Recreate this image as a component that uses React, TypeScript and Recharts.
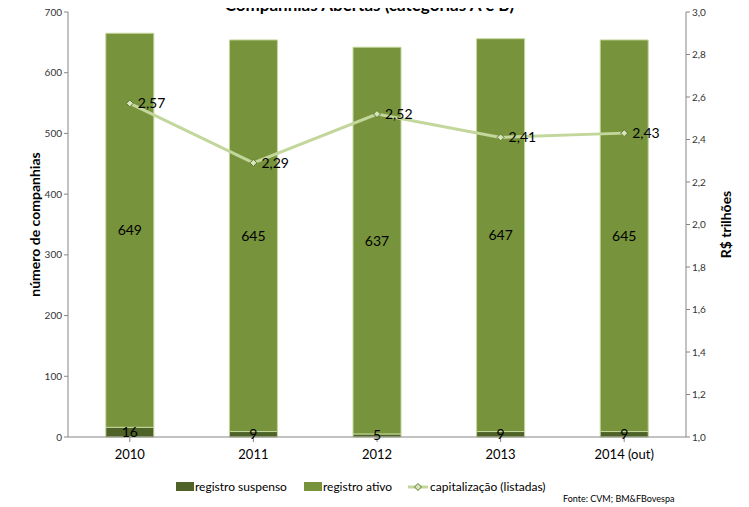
import React from "react";
import {
  ComposedChart,
  Bar,
  Line,
  XAxis,
  YAxis,
  LabelList,
} from "recharts";

const categories = ["2010", "2011", "2012", "2013", "2014 (out)"];
const suspenso = [16, 9, 5, 9, 9];
const ativo = [649, 645, 637, 647, 645];
const capitalizacao = [2.57, 2.29, 2.52, 2.41, 2.43];
const leftTicks = [0, 100, 200, 300, 400, 500, 600, 700];
const rightTicks = [1.0, 1.2, 1.4, 1.6, 1.8, 2.0, 2.2, 2.4, 2.6, 2.8, 3.0];

const data = categories.map((c, i) => ({
  cat: c,
  suspenso: suspenso[i],
  ativo: ativo[i],
  cap: capitalizacao[i],
}));

const FONT = "Lato, 'Open Sans', sans-serif";
const DARK = "#4f6228";
const MID = "#77933c";
const LIGHT = "#c3d69b";
const AXIS = "#868686";

const fmt = (v: number) => v.toFixed(2).replace(".", ",");
const fmt1 = (v: number) => v.toFixed(1).replace(".", ",");

const Diamond = (props: any) => {
  const { cx, cy } = props;
  if (cx == null || cy == null) return null;
  const s = 3.5;
  return (
    <path
      d={`M${cx},${cy - s} L${cx + s},${cy} L${cx},${cy + s} L${cx - s},${cy} Z`}
      fill="#d7e4bd"
      stroke="#5a7a2a"
      strokeWidth={1}
    />
  );
};

const LineLabel = (props: any) => {
  const { x, y, value } = props;
  return (
    <text
      x={x + 8}
      y={y + 5}
      fontSize={14}
      fill="#000"
      fontFamily={FONT}
    >
      {fmt(value)}
    </text>
  );
};

export default function App() {
  return (
    <div
      style={{
        position: "relative",
        width: 749,
        height: 507,
        margin: "-8px 0 0 -8px",
        overflow: "hidden",
        fontFamily: FONT,
        background: "#fff",
      }}
    >
      <ComposedChart
        width={749}
        height={507}
        data={data}
        margin={{ top: 12, right: 0, bottom: 0, left: 0 }}
        barCategoryGap="30.6%"
      >
        <XAxis
          dataKey="cat"
          height={70}
          tick={{ fontSize: 13, fill: "#000", fontFamily: FONT }}
          tickLine={{ stroke: AXIS }}
          axisLine={{ stroke: AXIS }}
          tickSize={5}
          interval={0}
          tickMargin={8}
        />
        <YAxis
          yAxisId="left"
          orientation="left"
          width={68}
          domain={[0, 700]}
          ticks={leftTicks}
          tick={{ fontSize: 10, fill: "#333", fontFamily: FONT }}
          tickLine={{ stroke: AXIS }}
          axisLine={{ stroke: AXIS }}
          tickSize={4}
          interval={0}
          label={{
            value: "número de companhias",
            angle: -90,
            position: "insideLeft",
            offset: 35,
            style: {
              textAnchor: "middle",
              fontSize: 14,
              fontWeight: 700,
              fill: "#000",
              fontFamily: FONT,
            },
          }}
        />
        <YAxis
          yAxisId="right"
          orientation="right"
          width={63}
          domain={[1, 3]}
          ticks={rightTicks}
          tickFormatter={fmt1}
          tick={{ fontSize: 10, fill: "#333", fontFamily: FONT }}
          tickLine={{ stroke: AXIS }}
          axisLine={{ stroke: AXIS }}
          tickSize={4}
          interval={0}
          label={{
            value: "R$ trilhões",
            angle: -90,
            position: "insideRight",
            offset: 23,
            style: {
              textAnchor: "middle",
              fontSize: 14,
              fontWeight: 700,
              fill: "#000",
              fontFamily: FONT,
            },
          }}
        />
        <Bar
          yAxisId="left"
          dataKey="suspenso"
          stackId="a"
          fill={DARK}
          stroke={LIGHT}
          strokeWidth={1}
          isAnimationActive={false}
        >
          <LabelList
            dataKey="suspenso"
            position="center"
            style={{ fontSize: 14, fill: "#000", fontFamily: FONT }}
          />
        </Bar>
        <Bar
          yAxisId="left"
          dataKey="ativo"
          stackId="a"
          fill={MID}
          stroke={LIGHT}
          strokeWidth={1}
          isAnimationActive={false}
        >
          <LabelList
            dataKey="ativo"
            position="center"
            style={{ fontSize: 14, fill: "#000", fontFamily: FONT }}
          />
        </Bar>
        <Line
          yAxisId="right"
          dataKey="cap"
          stroke={LIGHT}
          strokeWidth={3}
          dot={<Diamond />}
          activeDot={false}
          isAnimationActive={false}
        >
          <LabelList dataKey="cap" content={<LineLabel />} />
        </Line>
      </ComposedChart>

      <div
        style={{
          position: "absolute",
          top: -3,
          left: 0,
          width: 749,
          textAlign: "center",
          fontSize: 17,
          fontWeight: 700,
          color: "#000",
          whiteSpace: "nowrap",
          paddingRight: 10,
          boxSizing: "border-box",
          lineHeight: "16px",
        }}
      >
        Companhias Abertas (categorias A e B)
      </div>

      <div
        style={{
          position: "absolute",
          top: 479,
          left: 176,
          display: "flex",
          alignItems: "center",
          fontSize: 12,
          color: "#000",
          whiteSpace: "nowrap",
        }}
      >
        <span style={{ display: "inline-block", width: 18, height: 9, background: DARK, marginRight: 1 }} />
        <span style={{ marginRight: 17 }}>registro suspenso</span>
        <span style={{ display: "inline-block", width: 18, height: 9, background: MID, marginRight: 1 }} />
        <span style={{ marginRight: 16 }}>registro ativo</span>
        <svg width={20} height={10} style={{ marginRight: 2 }}>
          <line x1={0} y1={5} x2={20} y2={5} stroke={LIGHT} strokeWidth={3} />
          <path d="M10,1.5 L13.5,5 L10,8.5 L6.5,5 Z" fill="#d7e4bd" stroke="#5a7a2a" strokeWidth={1} />
        </svg>
        <span>capitalização (listadas)</span>
      </div>

      <div
        style={{
          position: "absolute",
          top: 493,
          left: 563,
          fontSize: 9,
          color: "#000",
          whiteSpace: "nowrap",
        }}
      >
        Fonte: CVM; BM&amp;FBovespa
      </div>
    </div>
  );
}
